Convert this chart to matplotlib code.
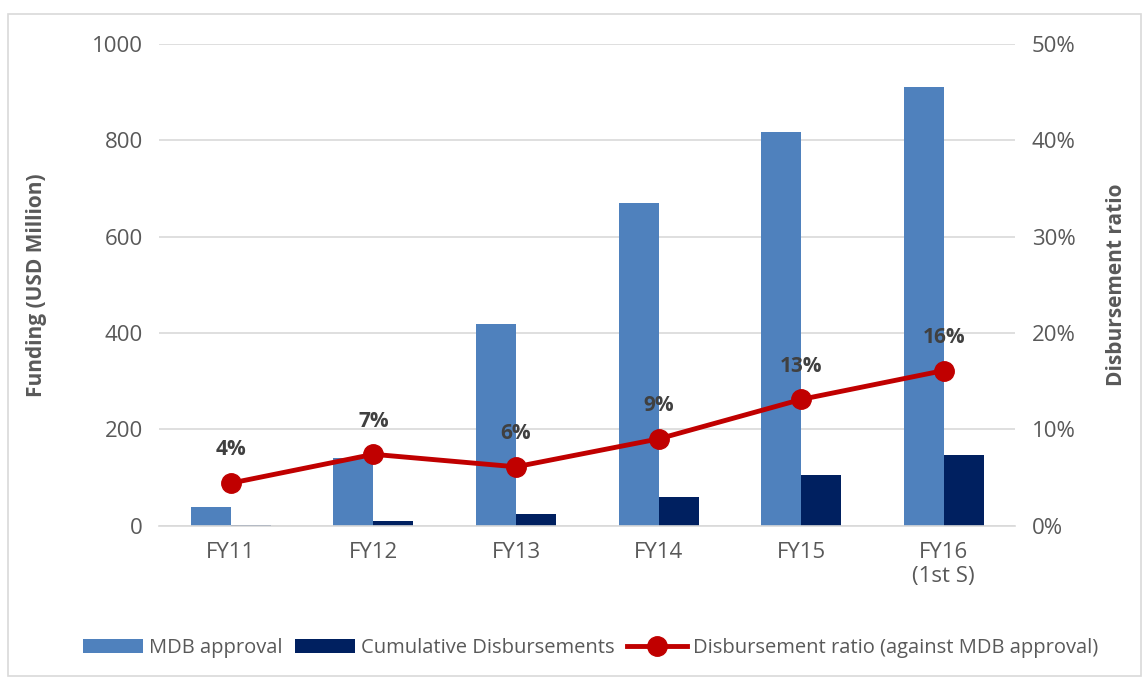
import numpy as np
import matplotlib.pyplot as plt
from matplotlib.patches import Rectangle

# Data
categories = ["FY11", "FY12", "FY13", "FY14", "FY15", "FY16\n(1st S)"]
mdb_approval = [38, 141, 418, 671, 817, 910]
cum_disb = [2, 10, 25, 60, 106, 146]
ratio = [4.4, 7.4, 6.1, 9.0, 13.1, 16.1]
ratio_labels = ["4%", "7%", "6%", "9%", "13%", "16%"]

plt.rcParams['font.family'] = ['Open Sans', 'DejaVu Sans']
txt = "#595959"

fig = plt.figure(figsize=(11.47, 6.79), dpi=100)
ax = fig.add_axes([0.139, 0.226, 0.746, 0.709])
ax2 = ax.twinx()

x = np.arange(len(categories))
w = 0.28
ax.bar(x - w / 2, mdb_approval, w, color="#4f81bd", label="MDB approval", zorder=2)
ax.bar(x + w / 2, cum_disb, w, color="#002060", label="Cumulative Disbursements", zorder=2)

ax.set_ylim(0, 1000)
ax.set_yticks(range(0, 1001, 200))
ax.set_xlim(-0.5, len(categories) - 0.5)
ax.set_xticks(x)
ax.set_xticklabels(categories)
ax.grid(axis="y", color="#d9d9d9", linewidth=1.2, zorder=0)
ax.set_axisbelow(True)
ax.set_ylabel("Funding (USD Million)", fontsize=15, fontweight="bold", color=txt, labelpad=32)

ax2.plot(x, ratio, color="#c00000", linewidth=3.5, marker="o", markersize=14,
         label="Disbursement ratio (against MDB approval)", zorder=3)
for xi, yi, lab in zip(x, ratio, ratio_labels):
    ax2.annotate(lab, (xi, yi), xytext=(0, 20), textcoords="offset points", ha="center",
                 fontsize=15, fontweight="bold", color="#404040")
ax2.set_ylim(0, 50)
ax2.set_yticks(range(0, 51, 10))
ax2.set_yticklabels([f"{v}%" for v in range(0, 51, 10)])
ax2.set_ylabel("Disbursement ratio", fontsize=15, fontweight="bold", color=txt, labelpad=22)

for a in (ax, ax2):
    for s in a.spines.values():
        s.set_visible(False)
    a.tick_params(length=0, labelsize=16, colors=txt, pad=12)
ax.spines["bottom"].set_visible(True)
ax.spines["bottom"].set_color("#d9d9d9")
ax.spines["bottom"].set_linewidth(1.2)

h1, l1 = ax.get_legend_handles_labels()
h2, l2 = ax2.get_legend_handles_labels()
fig.legend(h1 + h2, l1 + l2, loc="center", bbox_to_anchor=(0.515, 0.046), ncol=3,
           frameon=False, fontsize=14.5, labelcolor=txt, handlelength=3.0,
           handletextpad=0.3, columnspacing=0.6)

fig.patches.append(Rectangle((0.007, 0.005), 0.988, 0.975, transform=fig.transFigure,
                             fill=False, edgecolor="#d9d9d9", linewidth=1.2))

fig.savefig("out.png", dpi=100)
